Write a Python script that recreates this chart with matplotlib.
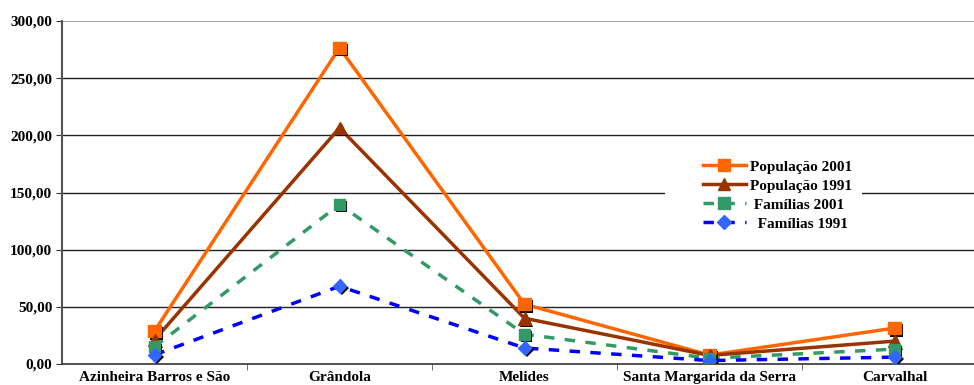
import matplotlib
matplotlib.use("Agg")
import matplotlib.pyplot as plt
import matplotlib.patheffects as pe
from matplotlib.patches import Rectangle
import numpy as np

# Freguesias of Grândola
categories = ["Azinheira Barros e São", "Grândola", "Melides",
              "Santa Margarida da Serra", "Carvalhal"]

pop_2001 = [28.8, 276.5, 52.3, 7.8, 31.4]
pop_1991 = [21.0, 206.5, 40.0, 7.5, 20.0]
fam_2001 = [15.0, 139.5, 26.0, 5.0, 13.0]
fam_1991 = [8.0, 68.0, 14.0, 3.0, 6.0]

plt.rcParams["font.family"] = ["Liberation Serif", "DejaVu Serif"]
plt.rcParams["font.weight"] = "bold"

fig = plt.figure(figsize=(9.74, 3.85), dpi=100)
ax = fig.add_axes([62 / 974, 21 / 385, 925 / 974, 343 / 385])

x = np.arange(len(categories))
shadow = [pe.SimplePatchShadow(offset=(1.6, -1.6), shadow_rgbFace="black", alpha=1.0), pe.Normal()]

series = [
    (pop_2001, "População 2001", "#FF6600", "-", "s", "#FF6600", 9, 2.5),
    (pop_1991, "População 1991", "#993300", "-", "^", "#993300", 9, 2.5),
    (fam_2001, " Famílias 2001", "#339966", (0, (3, 3)), "s", "#339966", 8, 2.5),
    (fam_1991, "  Famílias 1991", "#0000FF", (0, (3, 3)), "D", "#3366FF", 7, 2.5),
]

handles = []
for vals, label, col, ls, mk, mcol, ms, lw in series:
    ax.plot(x, vals, color=col, linestyle=ls, linewidth=lw, zorder=3)
    ax.plot(x, vals, linestyle="none", marker=mk, markersize=ms,
            markerfacecolor=mcol, markeredgecolor=mcol, zorder=4,
            path_effects=shadow)
    h, = ax.plot([], [], color=col, linestyle=ls, linewidth=lw, marker=mk,
                 markersize=ms, markerfacecolor=mcol, markeredgecolor=mcol,
                 label=label)
    handles.append(h)

ax.set_xlim(-0.5, len(categories) - 0.5)
ax.set_ylim(0, 300)
ax.set_yticks(np.arange(0, 301, 50))
ax.set_yticklabels([f"{v:.2f}".replace(".", ",") for v in np.arange(0, 301, 50)],
                   fontsize=11, fontweight="bold")
ax.set_xticks(x)
ax.set_xticklabels(categories, fontsize=11, fontweight="bold")
ax.tick_params(axis="x", length=0, pad=5)
ax.set_xticks(np.arange(0.5, len(categories) - 0.5, 1), minor=True)
ax.tick_params(axis="x", which="minor", length=4, direction="out", color="#555555")
ax.tick_params(axis="y", length=4, direction="out", color="#333333", pad=3)

for v in range(50, 300, 50):
    ax.axhline(v, color="#222222", linewidth=1.0, zorder=1)
ax.axhline(300, color="#AAAAAA", linewidth=1.5, zorder=1)

for side in ["top", "right"]:
    ax.spines[side].set_visible(False)
ax.spines["left"].set_color("#555555")
ax.spines["left"].set_linewidth(1.5)
ax.spines["bottom"].set_color("#333333")
ax.spines["bottom"].set_linewidth(1.2)

# white legend area that hides the gridline behind it
ax.add_patch(Rectangle(((665 - 62) / 925, (364 - 236) / 343), 197 / 925, 84 / 343,
                       transform=ax.transAxes, facecolor="white", edgecolor="none",
                       zorder=2))

leg = ax.legend(handles=handles, loc="upper left",
                bbox_to_anchor=((703 - 62) / 925, (364 - 160) / 343),
                frameon=False, fontsize=11, handlelength=2.8, labelspacing=0.35,
                handletextpad=0.3, borderpad=0, borderaxespad=0)
leg.set_zorder(5)
for t in leg.get_texts():
    t.set_fontweight("bold")

fig.savefig("out.png", dpi=100)
